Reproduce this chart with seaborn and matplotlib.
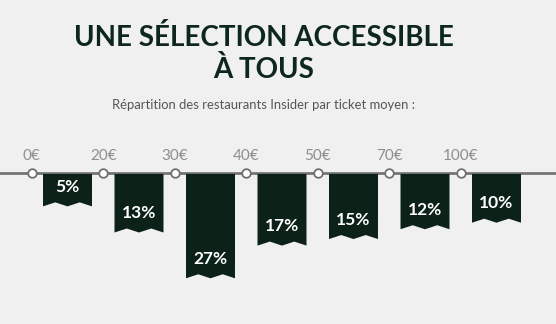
import matplotlib
matplotlib.use("Agg")
import matplotlib.pyplot as plt
from matplotlib.patches import Polygon
import seaborn as sns
import pandas as pd

# Data
price_ticks = ["0€", "20€", "30€", "40€", "50€", "70€", "100€"]
brackets = ["0-20€", "20-30€", "30-40€", "40-50€", "50-70€", "70-100€", "100€+"]
shares = [5, 13, 27, 17, 15, 12, 10]

subtitle = "Répartition des restaurants Insider par ticket moyen :"

BG = "#f0f0f0"
DARK = "#0c2219"
LINE = "#707070"
TICK_TXT = "#8e8e8e"

sns.set_theme(style="white")
plt.rcParams["font.family"] = ["Lato", "DejaVu Sans"]

W, H = 556, 324
fig = plt.figure(figsize=(W / 100, H / 100), dpi=100, facecolor=BG)

# chart axes: lower part of the figure, in pixel-calibrated units
ax_top_px, ax_bot_px = 140, 324
ax = fig.add_axes([0, 1 - ax_bot_px / H, 1, (ax_bot_px - ax_top_px) / H])
ax.set_facecolor(BG)

px_per_unit_x = 71.5
x0_px = 67.5
px_per_pct = 3.27
line_px = 173.0

df = pd.DataFrame({"bracket": brackets, "share": shares})
sns.barplot(data=df, x="bracket", y="share", color=DARK, saturation=1,
            width=0.685, ax=ax, linewidth=0)

ax.set_xlim(-x0_px / px_per_unit_x, (W - x0_px) / px_per_unit_x)
ax.set_ylim((ax_bot_px - line_px) / px_per_pct, -(line_px - ax_top_px) / px_per_pct)
ax.axis("off")

# ribbon tail with two notches under each bar, carrying the label
tail = 17 / px_per_pct
notch = 4 / px_per_pct
for bar, val in zip(ax.patches, shares):
    x = bar.get_x()
    w = bar.get_width()
    top = bar.get_y()
    y = top + bar.get_height()
    yb = y + tail
    pts = [(x, top + 0.3), (x + w, top + 0.3), (x + w, yb),
           (x + 0.75 * w, yb - notch), (x + 0.5 * w, yb),
           (x + 0.25 * w, yb - notch), (x, yb)]
    ax.add_patch(Polygon(pts, closed=True, facecolor=DARK, edgecolor="none", zorder=2))
    ax.text(x + w / 2, yb - 19.5 / px_per_pct, f"{val}%", ha="center", va="center",
            color="white", fontsize=12.5, fontweight="bold", zorder=3)

# price line with boundary markers
ax.axhline(0, color=LINE, lw=1.9, zorder=1)
bounds = [i - 0.5 for i in range(len(price_ticks))]
ax.plot(bounds, [0] * len(bounds), "o", ms=6.2, mfc="white", mec=LINE, mew=1.3,
        zorder=4, clip_on=False)
for bx, lab in zip(bounds, price_ticks):
    ax.text(bx, -17 / px_per_pct, lab, ha="center", va="center",
            color=TICK_TXT, fontsize=11)

# heading
fig.text(264 / W, 1 - 38 / H, "UNE SÉLECTION ACCESSIBLE", ha="center", va="center",
         fontsize=20, fontweight="bold", color="#0e271c")
fig.text(264 / W, 1 - 70 / H, "À TOUS", ha="center", va="center",
         fontsize=20, fontweight="bold", color="#0e271c")
fig.text(264 / W, 1 - 105 / H, subtitle, ha="center", va="center",
         fontsize=9.4, color="#555555")

fig.savefig("out.png", dpi=100, facecolor=BG)
